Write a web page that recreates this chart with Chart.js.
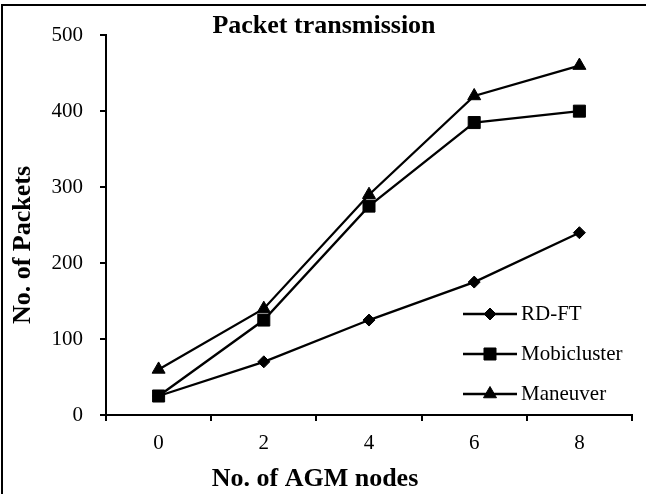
<!DOCTYPE html>
<html>
<head>
<meta charset="utf-8">
<script src="https://cdn.jsdelivr.net/npm/chart.js@4/dist/chart.umd.min.js"></script>
<style>
  html, body { margin: 0; padding: 0; background: #fff; overflow: hidden; }
  #wrap { position: relative; width: 646px; height: 494px; }
  #frame {
    position: absolute; left: 1px; top: 4px; width: 700px; height: 600px;
    border-left: 2px solid #000; border-top: 2px solid #000; pointer-events: none;
  }
</style>
</head>
<body>
<div id="wrap">
  <canvas id="packetChart" width="646" height="494"></canvas>
  <div id="frame"></div>
</div>
<script>
// ---- data ----
const categories = ['0', '2', '4', '6', '8'];
const rdft = [25, 70, 125, 175, 240];
const mobicluster = [25, 125, 275, 385, 400];
const maneuver = [60, 140, 290, 420, 460];
const yMin = 0, yMax = 500, yStep = 100;

const chartTitle = 'Packet transmission';
const xTitle = 'No. of AGM nodes';
const yTitle = 'No. of Packets';

const SERIF = '"Liberation Serif", "Times New Roman", Times, serif';

// axis titles sit where Excel put them, not centred on the plot
const axisTitles = {
    id: 'axisTitles',
    afterDraw(chart) {
        const ctx = chart.ctx;
        ctx.save();
        ctx.fillStyle = '#000';
        ctx.font = 'bold 26px ' + SERIF;
        ctx.textAlign = 'center';
        ctx.textBaseline = 'middle';
        ctx.fillText(xTitle, 315, 479);
        ctx.translate(23, 245);
        ctx.rotate(-Math.PI / 2);
        ctx.fillText(yTitle, 0, 0);
        ctx.restore();
    }
};

// legend drawn inside the plot: line sample with the marker on it
const insideLegend = {
    id: 'insideLegend',
    afterDraw(chart) {
        const ctx = chart.ctx;
        const area = chart.chartArea;
        const x0 = area.right - 169, x1 = area.right - 115;
        ctx.save();
        chart.data.datasets.forEach((ds, i) => {
            const y = area.bottom - 101 + i * 40;
            ctx.strokeStyle = '#000';
            ctx.fillStyle = '#000';
            ctx.lineWidth = 2.3;
            ctx.beginPath();
            ctx.moveTo(x0, y);
            ctx.lineTo(x1, y);
            ctx.stroke();
            ctx.lineWidth = 1;
            Chart.helpers.drawPoint(ctx, {
                pointStyle: ds.pointStyle, radius: ds.pointRadius, rotation: 0, borderWidth: 1
            }, (x0 + x1) / 2, y);
            ctx.font = '21px ' + SERIF;
            ctx.textAlign = 'left';
            ctx.textBaseline = 'middle';
            ctx.fillText(ds.label, x1 + 4, y);
        });
        ctx.restore();
    }
};

function makeSeries(label, data, style, radius) {
    return {
        label: label,
        data: data,
        borderColor: '#000',
        backgroundColor: '#000',
        borderWidth: 2.3,
        pointStyle: style,
        pointRadius: radius,
        pointBorderWidth: 1,
        pointBorderColor: '#000',
        pointBackgroundColor: '#000',
        tension: 0,
        clip: false
    };
}

function renderPacketChart() {
    const ctx = document.getElementById('packetChart').getContext('2d');

    new Chart(ctx, {
        type: 'line',
        data: {
            labels: categories,
            datasets: [
                makeSeries('RD-FT', rdft, 'rectRot', 6),
                makeSeries('Mobicluster', mobicluster, 'rect', 8.5),
                makeSeries('Maneuver', maneuver, 'triangle', 7.5)
            ]
        },
        options: {
            responsive: false,
            animation: false,
            layout: { padding: { left: 16, right: 14, top: 0, bottom: 0 } },
            plugins: {
                legend: { display: false },
                tooltip: { enabled: false },
                title: {
                    display: true,
                    text: chartTitle,
                    color: '#000',
                    font: { family: SERIF, size: 26, weight: 'bold', lineHeight: 0.7 },
                    padding: { top: 17, bottom: 0 }
                }
            },
            scales: {
                x: {
                    offset: true,
                    grid: {
                        display: true, drawOnChartArea: false, drawTicks: true,
                        tickLength: 6, color: '#000', lineWidth: 2, offset: true
                    },
                    border: { display: true, color: '#000', width: 2 },
                    ticks: {
                        color: '#000', padding: 10,
                        font: { family: SERIF, size: 21 },
                        maxRotation: 0
                    },
                    afterFit(scale) { scale.height = 79; }
                },
                y: {
                    min: yMin,
                    max: yMax,
                    grid: {
                        display: true, drawOnChartArea: false, drawTicks: true,
                        tickLength: 6, color: '#000', lineWidth: 2
                    },
                    border: { display: true, color: '#000', width: 2 },
                    ticks: {
                        stepSize: yStep, color: '#000', padding: 17,
                        font: { family: SERIF, size: 21 }
                    },
                    afterFit(scale) { scale.width = 90; }
                }
            }
        },
        plugins: [axisTitles, insideLegend]
    });
}

renderPacketChart();
</script>
</body>
</html>
